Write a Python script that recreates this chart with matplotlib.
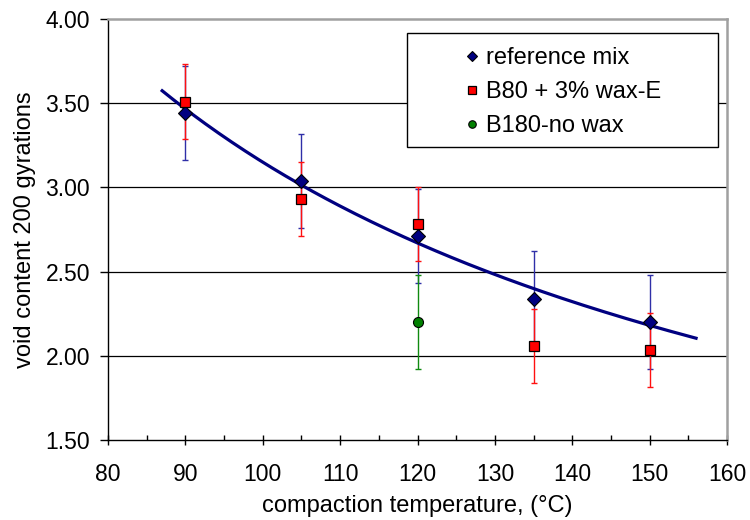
import numpy as np
import matplotlib
matplotlib.use("Agg")
import matplotlib.pyplot as plt
from matplotlib.ticker import MultipleLocator, FormatStrFormatter
from matplotlib.patches import Rectangle

plt.rcParams['font.family'] = ['Liberation Sans', 'DejaVu Sans']

# Compaction temperatures (°C)
temps = [90, 105, 120, 135, 150]

# Void content after 200 gyrations
ref_mix = [3.44, 3.04, 2.71, 2.34, 2.20]
ref_err = [0.28, 0.28, 0.28, 0.28, 0.28]

wax_temps = [90, 105, 120, 135, 150]
wax_e = [3.51, 2.93, 2.78, 2.06, 2.035]
wax_err = [0.22, 0.22, 0.22, 0.22, 0.22]

nowax_temps = [120]
no_wax = [2.20]
nowax_err = [0.28]

labels = ["reference mix", "B80 + 3% wax-E", "B180-no wax"]

W, H = 750, 520
L, R, T, B = 108, 727, 19, 440

fig = plt.figure(figsize=(W / 100, H / 100), dpi=100)
ax = fig.add_axes([L / W, 1 - B / H, (R - L) / W, (B - T) / H])

ax.set_xlim(80, 160)
ax.set_ylim(1.5, 4.0)

def ax_x(px):
    return (px - L) / (R - L)

def ax_y(py):
    return 1 - (py - T) / (B - T)

# horizontal gridlines
for yv in [2.0, 2.5, 3.0, 3.5]:
    ax.axhline(yv, color='black', lw=0.9, zorder=0)

ax.errorbar(temps, ref_mix, yerr=ref_err, fmt='none', ecolor='#2f2fa8',
            elinewidth=1.0, capsize=2.5, capthick=1.0, zorder=2)
ax.errorbar(wax_temps, wax_e, yerr=wax_err, fmt='none', ecolor='#ff1010',
            elinewidth=1.0, capsize=2.5, capthick=1.0, zorder=3)
ax.errorbar(nowax_temps, no_wax, yerr=nowax_err, fmt='none', ecolor='#108a10',
            elinewidth=1.0, capsize=2.5, capthick=1.0, zorder=3)

# power-law trend of the reference mix
b, a = np.polyfit(np.log(temps), np.log(ref_mix), 1)
xt = np.linspace(temps[0] - 3, temps[-1] + 6, 200)
ax.plot(xt, np.exp(a) * xt ** b, color='#000080', lw=2.3, zorder=4)

ax.plot(temps, ref_mix, 'D', ms=7, mfc='#000080', mec='black', mew=0.8,
        ls='none', label=labels[0], zorder=5)
ax.plot(wax_temps, wax_e, 's', ms=7, mfc='#ff0000', mec='black', mew=0.9,
        ls='none', label=labels[1], zorder=6)
ax.plot(nowax_temps, no_wax, 'o', ms=7.2, mfc='#008000', mec='black', mew=0.8,
        ls='none', label=labels[2], zorder=6)

ax.xaxis.set_major_locator(MultipleLocator(10))
ax.xaxis.set_minor_locator(MultipleLocator(5))
ax.yaxis.set_major_locator(MultipleLocator(0.5))
ax.yaxis.set_major_formatter(FormatStrFormatter('%.2f'))
ax.tick_params(axis='x', which='major', direction='inout', length=7, width=1,
               labelsize=16.5, pad=13)
ax.tick_params(axis='x', which='minor', direction='in', length=3.6, width=1)
ax.tick_params(axis='y', which='major', direction='out', length=6, width=1,
               labelsize=16.5, pad=7)

for side in ['left', 'bottom']:
    ax.spines[side].set_color('black')
    ax.spines[side].set_linewidth(1.0)
for side in ['top', 'right']:
    ax.spines[side].set_color('#a0a0a0')
    ax.spines[side].set_linewidth(1.8)

ax.set_xlabel("compaction temperature, (°C)", fontsize=17)
ax.set_ylabel("void content 200 gyrations", fontsize=17)
ax.xaxis.set_label_coords(0.5, ax_y(495))
ax.yaxis.set_label_coords(ax_x(36), 0.5)

# legend box
box = Rectangle((ax_x(407), ax_y(147)), ax_x(718) - ax_x(407), ax_y(33) - ax_y(147),
                transform=ax.transAxes, facecolor='white', edgecolor='black',
                lw=1.0, clip_on=False, zorder=9)
ax.add_patch(box)

leg = ax.legend(loc='upper left', bbox_to_anchor=(ax_x(465), ax_y(47)),
                fontsize=17, frameon=False, handlelength=0.6, handletextpad=0.3,
                markerscale=0.75, labelspacing=0.51, borderpad=0,
                borderaxespad=0)
leg.set_zorder(10)

fig.savefig("out.png", dpi=100)
